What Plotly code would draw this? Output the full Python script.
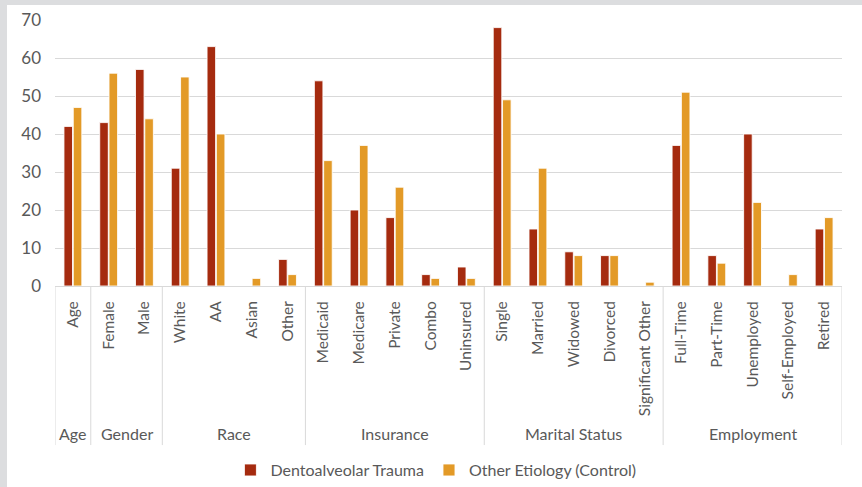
import plotly.graph_objects as go

groups = ["Age", "Gender", "Race", "Insurance", "Marital Status", "Employment"]
group_items = [
    ["Age"],
    ["Female", "Male"],
    ["White", "AA", "Asian", "Other"],
    ["Medicaid", "Medicare", "Private", "Combo", "Uninsured"],
    ["Single", "Married", "Widowed", "Divorced", "Significant Other"],
    ["Full-Time", "Part-Time", "Unemployed", "Self-Employed", "Retired"],
]
trauma = [42, 43, 57, 31, 63, 0, 7, 54, 20, 18, 3, 5, 68, 15, 9, 8, 0, 37, 8, 40, 0, 15]
control = [47, 56, 44, 55, 40, 2, 3, 33, 37, 26, 2, 2, 49, 31, 8, 8, 1, 51, 6, 22, 3, 18]
series_names = ["Dentoalveolar Trauma", "Other Etiology (Control)"]

categories = [c for items in group_items for c in items]
xidx = list(range(len(categories)))

RED = "#A52B0F"
ORANGE = "#E39A27"
TXT = "#595959"
GRID = "#D9D9D9"
FONT = "Lato"

fig = go.Figure()
for name, vals, col in [(series_names[0], trauma, RED), (series_names[1], control, ORANGE)]:
    fig.add_trace(go.Bar(
        x=xidx, y=vals, name=name,
        marker=dict(color=col, line=dict(color="rgba(255,255,255,0.85)", width=1)),
    ))

shapes = []
# page background: gray border top/left
shapes.append(dict(type="rect", xref="paper", yref="paper",
                   x0=-0.061, x1=1.03, y0=-0.78, y1=1.0564,
                   fillcolor="white", line=dict(width=0), layer="below"))

# dividers
bounds = [-0.5]
pos = -0.5
for items in group_items:
    pos += len(items)
    bounds.append(pos)
for b in bounds:
    shapes.append(dict(type="line", xref="x", yref="paper", x0=b, x1=b,
                       y0=0, y1=-0.598, line=dict(color=GRID, width=1)))

annotations = []
start = 0
for g, items in zip(groups, group_items):
    center = start + (len(items) - 1) / 2
    annotations.append(dict(x=center, y=-0.556, xref="x", yref="paper",
                            text=g, showarrow=False, yanchor="middle",
                            font=dict(family=FONT, size=16, color=TXT)))
    start += len(items)

fig.update_layout(
    width=862, height=487,
    margin=dict(l=55, r=20, t=20, b=201, autoexpand=False),
    paper_bgcolor="#DCDDDF",
    plot_bgcolor="white",
    barmode="group",
    bargap=0.48,
    bargroupgap=0.08,
    shapes=shapes,
    annotations=annotations,
    font=dict(family=FONT, size=16, color=TXT),
    legend=dict(orientation="h", x=0.484, xanchor="center", y=-0.692, yanchor="middle",
                font=dict(family=FONT, size=16, color=TXT),
                itemwidth=30, traceorder="normal", bgcolor="rgba(0,0,0,0)"),
    showlegend=True,
)
fig.update_xaxes(
    tickmode="array", tickvals=xidx, ticktext=categories, tickangle=-90,
    range=[-0.5, len(categories) - 0.5],
    showgrid=False, showline=True, linecolor=GRID, linewidth=1,
    ticks="", ticklabelstandoff=8,
    tickfont=dict(family=FONT, size=15.5, color=TXT),
)
fig.update_yaxes(
    range=[0, 70], dtick=10, showgrid=True, gridcolor=GRID, gridwidth=1,
    zeroline=False, showline=False, ticks="", ticklabelstandoff=13,
    tickfont=dict(family=FONT, size=17, color=TXT),
)

fig.write_html("out.html")
